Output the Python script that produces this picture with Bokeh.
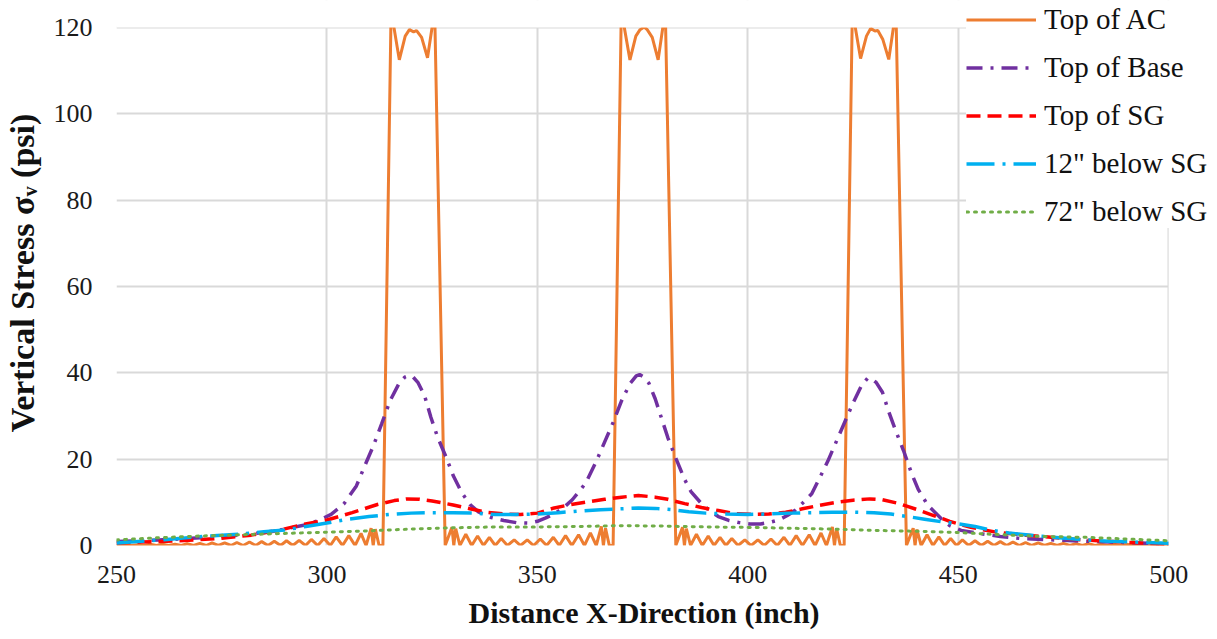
from bokeh.plotting import figure
from bokeh.models import Legend, LegendItem, FixedTicker, BoxAnnotation, Title
from bokeh.embed import file_html
from bokeh.resources import INLINE

# ---------------- data ----------------
ac_x = [250.0, 252.1, 253.6, 255.0, 256.5, 258.0, 259.5, 260.9, 262.4, 263.9, 265.4, 266.8, 268.3,
        269.8, 271.3, 272.7, 274.2, 275.7, 277.2, 278.6, 280.1, 281.6, 283.1, 284.5, 286.0, 287.5,
        289.0, 290.4, 291.9, 293.4, 294.9, 296.3, 297.8, 299.3, 300.8, 302.2, 303.7, 305.2, 306.7,
        308.1, 309.3, 310.5, 311.0, 311.5, 312.4, 313.3,
        315.25, 317.2, 318.6, 319.6, 320.6, 321.3, 322.5, 323.9, 325.6, 328.1,
        329.7, 330.15, 330.6, 331.6, 333.0, 334.4, 335.8, 337.2, 338.6, 340.0, 341.4, 342.9, 344.5,
        346.0, 347.6, 349.1, 350.7, 352.2, 353.8, 355.2, 356.7, 358.2, 359.8, 361.2, 362.6, 364.0,
        365.2, 365.7, 366.2, 367.1, 368.0,
        369.95, 372.0, 373.4, 374.4, 375.4, 376.1, 377.3, 378.7, 380.4, 382.9,
        384.5, 384.95, 385.4, 386.4, 387.8, 389.2, 390.6, 392.0, 393.4, 394.8, 396.2, 397.7, 399.3,
        400.8, 402.4, 403.9, 405.5, 407.0, 408.6, 410.0, 411.5, 413.0, 414.6, 416.0, 417.4, 418.7,
        420.1, 420.6, 421.1, 422.0, 422.9,
        424.85, 426.8, 428.2, 429.2, 430.2, 430.9, 432.1, 433.5, 435.2, 437.7,
        439.3, 439.75, 440.2, 441.2, 442.6, 444.0, 445.4, 446.8, 448.2, 449.6, 451.0, 452.5, 454.0,
        455.5, 457.0, 458.5, 460.0, 461.5, 463.0, 464.5, 466.0, 467.5, 469.0, 470.5, 472.0, 473.5,
        475.0, 476.5, 478.0, 479.5, 481.0, 482.5, 484.0, 485.5, 487.0, 488.5, 490.0, 491.5, 493.0,
        494.5, 496.0, 497.5, 499.0, 500.0]
ac_y = [0.0, 0.2, 0.0, 0.2, 0.0, 0.3, 0.0, 0.3, 0.0, 0.3, 0.0, 0.4, 0.0,
        0.5, 0.0, 0.6, 0.0, 0.6, 0.0, 0.7, 0.0, 0.8, 0.0, 0.9, 0.0, 1.0,
        0.0, 1.1, 0.0, 1.2, 0.0, 1.4, 0.0, 1.6, 0.0, 2.0, 0.0, 2.3, 0.0,
        2.8, 0.0, 4.0, 0.0, 3.8, 0.0, 0.0,
        124.0, 112.5, 118.0, 119.5, 119.0, 119.3, 117.7, 113.0, 124.0, 0.0,
        4.2, 0.0, 3.9, 0.0, 2.6, 0.0, 2.2, 0.0, 1.9, 0.0, 1.6, 0.0, 1.3,
        0.0, 1.3, 0.0, 1.5, 0.0, 1.9, 0.0, 2.3, 0.0, 2.5, 0.0, 2.9, 0.0,
        4.4, 0.0, 4.0, 0.0, 0.0,
        124.0, 112.5, 118.0, 119.5, 120.1, 119.5, 117.7, 112.5, 124.0, 0.0,
        4.2, 0.0, 3.9, 0.0, 2.6, 0.0, 2.2, 0.0, 1.9, 0.0, 1.6, 0.0, 1.3,
        0.0, 1.3, 0.0, 1.5, 0.0, 1.9, 0.0, 2.3, 0.0, 2.5, 0.0, 2.9, 0.0,
        4.3, 0.0, 3.9, 0.0, 0.0,
        124.0, 112.8, 118.0, 119.8, 119.2, 119.3, 117.2, 112.6, 124.0, 0.0,
        4.0, 0.0, 3.7, 0.0, 2.5, 0.0, 2.0, 0.0, 1.6, 0.0, 1.3, 0.0, 1.1,
        0.0, 1.0, 0.0, 0.9, 0.0, 0.8, 0.0, 0.7, 0.0, 0.6, 0.0, 0.5, 0.0,
        0.5, 0.0, 0.4, 0.0, 0.4, 0.0, 0.3, 0.0, 0.3, 0.0, 0.3, 0.0, 0.2,
        0.0, 0.2, 0.0, 0.2, 0.0]

base_x = [250, 255, 260, 265, 270, 275, 280, 285, 290, 295, 298, 301, 304, 307, 309, 311, 313, 315,
          317, 318.5, 319.6, 320.5, 321.6, 323.2, 324.7, 326.3, 328.3, 330, 332, 334, 336, 339, 342,
          345, 348, 350, 352, 354.3, 356.5, 358.3, 360, 361.5, 364, 366, 368, 370, 372, 373.5,
          374.3, 375.3, 376.5, 378, 379.5, 381, 383, 385, 386.5, 389, 391, 393, 395.5, 398, 400.5,
          403, 405, 407.3, 409.5, 411.2, 413, 415.2, 417, 419, 421, 423, 425, 427, 428.5, 429.3,
          430.5, 432, 433.5, 435, 437, 439, 440.5, 442.8, 446, 448, 450.7, 455.5, 460, 465, 470,
          475, 480, 486, 490, 495, 500]
base_y = [0.9, 1.1, 1.3, 1.5, 1.8, 2.1, 2.5, 3.0, 3.8, 4.8, 5.8, 7.2, 9.6, 13.8, 18.5, 23.0, 28.2,
          33.5, 37.3, 39.0, 39.4, 39.0, 37.8, 34.7, 29.7, 25.1, 20.5, 16.2, 12.3, 9.5, 7.8, 6.5,
          5.8, 5.3, 5.2, 5.6, 6.4, 7.5, 9.0, 10.6, 12.6, 14.5, 19.5, 24.0, 28.5, 33.5, 37.5, 39.3,
          39.6, 39.0, 37.6, 34.0, 29.5, 25.0, 20.0, 15.3, 12.5, 9.7, 8.0, 6.7, 5.8, 5.3, 5.0,
          5.0, 5.3, 5.9, 7.0, 8.1, 9.8, 12.0, 15.5, 19.5, 24.0, 28.5, 33.0, 37.0, 38.8, 38.7,
          37.8, 35.5, 31.0, 27.0, 22.0, 16.5, 13.0, 9.3, 6.2, 4.6, 3.5, 2.7, 2.1, 1.6, 1.4,
          1.2, 1.0, 0.8, 0.7, 0.5, 0.4]

sg_x = [250, 256, 262, 269, 275, 282, 288, 294, 300, 306, 312, 316, 319, 322, 325, 330, 334, 338,
        342, 346, 350, 354, 358, 362, 366, 370, 374, 378, 381, 385, 389, 393, 397, 401, 405, 409,
        413, 417, 421, 425, 429, 432, 436, 440, 444, 448, 453, 459, 466, 472, 478, 485, 491, 497, 500]
sg_y = [0.6, 0.8, 1.0, 1.3, 1.7, 2.4, 3.4, 4.8, 5.9, 7.6, 9.5, 10.4, 10.8, 10.7, 10.3, 9.4, 8.5, 7.7,
        7.3, 7.2, 7.5, 8.7, 9.5, 10.1, 10.7, 11.2, 11.6, 11.2, 10.7, 9.7, 8.8, 8.1, 7.4, 7.2, 7.3, 7.7,
        8.5, 9.3, 10.0, 10.5, 10.8, 10.6, 9.7, 8.4, 7.0, 5.6, 4.2, 3.1, 2.4, 1.9, 1.4, 1.0, 0.7, 0.4, 0.3]

b12_x = [250, 256, 262, 268, 274, 280, 285, 290, 295, 300, 305, 310, 315, 320, 325, 330, 335, 340,
         345, 350, 355, 360, 365, 370, 374, 378, 382, 386, 390, 395, 400, 405, 410, 415, 420, 425,
         430, 434, 438, 442, 446, 450, 454, 458, 462, 468, 474, 480, 486, 492, 500]
b12_y = [0.6, 1.0, 1.4, 1.9, 2.3, 2.7, 3.2, 3.6, 4.4, 5.2, 6.1, 6.7, 7.2, 7.5, 7.6, 7.6, 7.5, 7.2,
         7.2, 7.3, 7.6, 8.0, 8.3, 8.5, 8.7, 8.6, 8.3, 7.8, 7.5, 7.3, 7.2, 7.3, 7.5, 7.6, 7.7, 7.7,
         7.6, 7.3, 6.7, 6.1, 5.5, 5.0, 4.4, 3.5, 2.9, 2.3, 1.8, 1.3, 1.0, 0.8, 0.5]

b72_x = [250, 260, 270, 280, 290, 300, 310, 320, 330, 340, 350, 360, 370, 380, 390, 400, 410, 420,
         430, 440, 450, 460, 470, 480, 490, 500]
b72_y = [1.3, 1.8, 2.2, 2.5, 2.8, 3.1, 3.4, 3.8, 4.1, 4.3, 4.3, 4.4, 4.6, 4.5, 4.3, 4.2, 4.0, 3.8,
         3.5, 3.3, 3.0, 2.5, 2.1, 1.9, 1.5, 1.1]

x_min, x_max = 250, 500
y_min, y_max = 0, 120
x_ticks = [250, 300, 350, 400, 450, 500]
y_ticks = [0, 20, 40, 60, 80, 100, 120]

labels = ["Top of AC", "Top of Base", "Top of SG", '12" below SG', '72" below SG']

# ---------------- layout geometry (pixels) ----------------
W, H = 1217, 639
LEFT, BOTTOM = 113, 94           # frame spans from x=113 to the right edge and from the top to y=545
PLOT_RIGHT_PX, PLOT_TOP_PX = 1168, 27   # where x=500 and y=120 fall
frame_w = W - LEFT
frame_h = H - BOTTOM
px_per_x = (PLOT_RIGHT_PX - LEFT) / (x_max - x_min)
px_per_y = (frame_h - PLOT_TOP_PX) / (y_max - y_min)
x_end = x_max + (W - PLOT_RIGHT_PX) / px_per_x
y_end = y_max + PLOT_TOP_PX / px_per_y

SERIF = "Liberation Serif"
p = figure(width=W, height=H, x_range=(x_min, x_end), y_range=(y_min, y_end),
           output_backend="svg", toolbar_location=None)
p.min_border_left = LEFT
p.min_border_right = 0
p.min_border_top = 0
p.min_border_bottom = BOTTOM
p.outline_line_color = None
p.background_fill_color = "white"
p.border_fill_color = "white"

for ax in (p.xaxis[0], p.yaxis[0]):
    ax.axis_line_color = None
    ax.major_tick_line_color = None
    ax.minor_tick_line_color = None
    ax.major_label_text_font = SERIF
    ax.major_label_text_font_size = "26px"
    ax.major_label_text_color = "#1a1a1a"
    ax.axis_label_text_font = SERIF
    ax.axis_label_text_font_style = "bold"
    ax.axis_label_text_color = "#111111"

p.xaxis[0].ticker = FixedTicker(ticks=x_ticks)
p.yaxis[0].ticker = FixedTicker(ticks=y_ticks)
p.xaxis[0].major_label_standoff = 14
p.yaxis[0].major_label_standoff = 18
p.yaxis[0].axis_label = "Vertical Stress \u03c3\u1d65 (psi)"
p.yaxis[0].axis_label_text_font_size = "34px"
p.yaxis[0].axis_label_standoff = 10

p.add_layout(Title(text="Distance X-Direction (inch)", align="left", offset=352,
                   text_font=SERIF, text_font_style="bold", text_font_size="30px",
                   text_color="#111111", standoff=17), "below")

for g in (p.xgrid[0], p.ygrid[0]):
    g.grid_line_color = "#d9d9d9"
    g.grid_line_width = 2

r_ac = p.line(ac_x, ac_y, line_color="#ED7D31", line_width=3)
r_base = p.line(base_x, base_y, line_color="#7030A0", line_width=3.5, line_dash="16 8 3 8")
r_sg = p.line(sg_x, sg_y, line_color="#FF0000", line_width=3.5, line_dash="14 7")
r_12 = p.line(b12_x, b12_y, line_color="#00B0F0", line_width=3.5, line_dash="28 8 3 8")
r_72 = p.line(b72_x, b72_y, line_color="#70AD47", line_width=3, line_dash="2 6", line_cap="round")

# white masks: everything above y=120 and right of x=500 is outside the chart area
p.add_layout(BoxAnnotation(bottom=y_max, top=y_end + 100, left=x_min - 100, right=x_end + 100,
                           fill_color="white", fill_alpha=1.0, line_color=None))
p.add_layout(BoxAnnotation(left=x_max, right=x_end + 100, bottom=y_min - 100, top=y_end + 100,
                           fill_color="white", fill_alpha=1.0, line_color=None))

legend = Legend(
    items=[LegendItem(label=l, renderers=[r]) for l, r in
           zip(labels, [r_ac, r_base, r_sg, r_12, r_72])],
    location=(850, 317),
    background_fill_color="white", background_fill_alpha=1.0,
    border_line_color=None,
    label_text_font=SERIF, label_text_font_size="29px", label_text_color="#111111",
    glyph_width=70, glyph_height=33, label_height=33, spacing=15,
    padding=12, margin=0, label_standoff=8,
)
p.add_layout(legend, "center")

open("out.html", "w").write(file_html(p, INLINE))
